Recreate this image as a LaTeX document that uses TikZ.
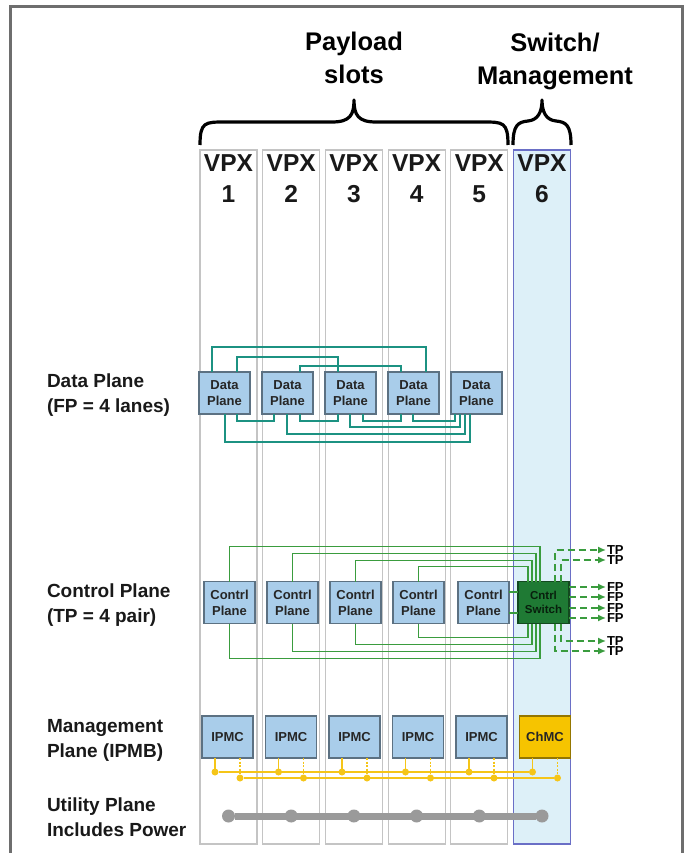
\documentclass[tikz,border=0pt]{standalone}
\usepackage{fontspec}
\setmainfont{Liberation Sans}
\usepackage{tikz}
\usetikzlibrary{positioning,arrows.meta}
\definecolor{slotgray}{HTML}{C4C4C4}
\definecolor{slotblue}{HTML}{DDF0F8}
\definecolor{slotblueline}{HTML}{6A6FC6}
\definecolor{boxblue}{HTML}{A9CDEA}
\definecolor{boxline}{HTML}{5C7182}
\definecolor{dpteal}{HTML}{1C9282}
\definecolor{cpgreen}{HTML}{3A9C3E}
\definecolor{swgreen}{HTML}{1F7A34}
\definecolor{ipmbyellow}{HTML}{F5C518}
\definecolor{chmcyellow}{HTML}{F6C400}
\definecolor{pwrgray}{HTML}{9A9A9A}
\definecolor{framegray}{HTML}{6E6E6E}

\begin{document}
\begin{tikzpicture}[x=1pt,y=-1pt,node distance=12pt,every node/.style={outer sep=0pt},slot/.style={draw=slotgray, line width=1.2pt, minimum width=57pt, minimum height=694pt, inner sep=0pt}, swslot/.style={slot, fill=slotblue, draw=slotblueline}, vpx/.style={font=\bfseries\fontsize{24.5}{30.5}\selectfont, align=center, text=black!90, inner sep=0pt}, ttl/.style={font=\bfseries\fontsize{25.5}{33}\selectfont, align=center, inner sep=0pt}, plane/.style={font=\bfseries\fontsize{19}{25}\selectfont, align=left, anchor=west, inner sep=0pt, text=black!90}, blk/.style={draw=boxline, fill=boxblue, line width=1.2pt, minimum width=51pt, minimum height=42pt, inner sep=0pt, align=center, text=black!85, font=\bfseries\fontsize{13}{16}\selectfont}, cswitch/.style={blk, fill=swgreen, draw=swgreen!60!black, text=black!75!swgreen, font=\bfseries\fontsize{11.5}{14}\selectfont}, chmc/.style={blk, fill=chmcyellow, draw=chmcyellow!60!black}, brc/.style={line width=3.2pt, line join=round}, dlink/.style={dpteal, line width=2.5pt}, clink/.style={cpgreen, line width=1.5pt}, port/.style={cpgreen, line width=1.5pt, dash pattern=on 7pt off 4pt, -{Latex[length=8pt,width=7pt]}}, portlbl/.style={font=\bfseries\fontsize{13}{12}\selectfont, anchor=west, inner sep=1pt}, ipmb/.style={ipmbyellow, line width=1.5pt}, ydot/.style={circle, fill=ipmbyellow, inner sep=0pt, minimum size=7pt}, pwr/.style={pwrgray, line width=7pt}, pdot/.style={circle, fill=pwrgray, inner sep=0pt, minimum size=13pt}]
        \useasboundingbox[fill=white] (0,0) rectangle (690,853);
        \draw[framegray, line width=3pt] (10,853) -- (10,7) -- (682,7) -- (682,853);
        
        % slots
        \node[slot] (s1) at (228.5,497) {};
        \node[slot] (s2) [right = 5.7pt of s1] {};
        \node[slot] (s3) [right = 5.7pt of s2] {};
        \node[slot] (s4) [right = 5.7pt of s3] {};
        \node[slot] (s5) [right = 5.7pt of s4] {};
        \node[swslot] (s6) [right = 5.7pt of s5] {};
        
        \node[vpx] (v1) [below = 5pt of s1.north] {VPX\\1};
        \node[vpx] (v2) [below = 5pt of s2.north] {VPX\\2};
        \node[vpx] (v3) [below = 5pt of s3.north] {VPX\\3};
        \node[vpx] (v4) [below = 5pt of s4.north] {VPX\\4};
        \node[vpx] (v5) [below = 5pt of s5.north] {VPX\\5};
        \node[vpx] (v6) [below = 5pt of s6.north] {VPX\\6};
        
        \node[ttl] (ttlpay) at (354,58) {Payload\\slots};
        \node[ttl] (ttlsw) at (555,61) {Switch/\\Management};
        
        \draw[brc] (200,145) .. controls (200,122) and (205,122) .. (225,122) -- (332,122) .. controls (350,122) and (354,115) .. (354,100) .. controls (354,115) and (358,122) .. (376,122) -- (483,122) .. controls (503,122) and (508,122) .. (508,145);
        \draw[brc] (513,145) .. controls (513,125) and (518,122) .. (528,121) .. controls (538,120) and (542,112) .. (542,100) .. controls (542,112) and (546,120) .. (556,121) .. controls (566,122) and (571,125) .. (571,145);
        
        \node[plane] (lbldp) at (47,395) {Data Plane\\(FP = 4 lanes)};
        \node[plane] (lblcp) at (47,605) {Control Plane\\(TP = 4 pair)};
        \node[plane] (lblmp) at (47,740) {Management\\Plane (IPMB)};
        \node[plane] (lblup) at (47,817) {Utility Plane\\Includes Power};
        
        % data plane
        \node[blk] (dp1) at (224.5,393) {Data\\Plane};
        \node[blk] (dp2) [right = of dp1] {Data\\Plane};
        \node[blk] (dp3) [right = of dp2] {Data\\Plane};
        \node[blk] (dp4) [right = of dp3] {Data\\Plane};
        \node[blk] (dp5) [right = of dp4] {Data\\Plane};
        
        \draw[dlink] ([xshift=13pt]dp1.north west) -- ++(0,-25) -| ([xshift=38pt]dp4.north west);
        \draw[dlink] ([xshift=38pt]dp1.north west) -- ++(0,-15) -| ([xshift=13pt]dp3.north west);
        \draw[dlink] ([xshift=38pt]dp2.north west) -- ++(0,-6) -| ([xshift=13pt]dp4.north west);
        \draw[dlink] ([xshift=38pt]dp1.south west) -- ++(0,7) -| ([xshift=12pt]dp2.south west);
        \draw[dlink] ([xshift=38pt]dp2.south west) -- ++(0,7) -| ([xshift=13pt]dp3.south west);
        \draw[dlink] ([xshift=38pt]dp3.south west) -- ++(0,7) -| ([xshift=13pt]dp4.south west);
        \draw[dlink] ([xshift=25pt]dp4.south west) -- ++(0,7) -| ([xshift=4pt]dp5.south west);
        \draw[dlink] ([xshift=25pt]dp3.south west) -- ++(0,13) -| ([xshift=9pt]dp5.south west);
        \draw[dlink] ([xshift=25pt]dp2.south west) -- ++(0,20) -| ([xshift=14pt]dp5.south west);
        \draw[dlink] ([xshift=26pt]dp1.south west) -- ++(0,28) -| ([xshift=19pt]dp5.south west);
        
        % control plane
        \node[blk] (cp1) at (229.5,602.5) {Contrl\\Plane};
        \node[blk] (cp2) [right = of cp1] {Contrl\\Plane};
        \node[blk] (cp3) [right = of cp2] {Contrl\\Plane};
        \node[blk] (cp4) [right = of cp3] {Contrl\\Plane};
        \node[blk] (cp5) [right = 14pt of cp4] {Contrl\\Plane};
        \node[cswitch] (sw) [right = 9pt of cp5] {Cntrl\\Switch};
        
        \draw[clink] (cp1.north) -- ++(0,-35) -| ([xshift=22pt]sw.north west);
        \draw[clink] (cp2.north) -- ++(0,-28) -| ([xshift=18pt]sw.north west);
        \draw[clink] (cp3.north) -- ++(0,-21) -| ([xshift=14pt]sw.north west);
        \draw[clink] (cp4.north) -- ++(0,-15) -| ([xshift=10pt]sw.north west);
        \draw[clink] (cp1.south) -- ++(0,35) -| ([xshift=22pt]sw.south west);
        \draw[clink] (cp2.south) -- ++(0,28) -| ([xshift=18pt]sw.south west);
        \draw[clink] (cp3.south) -- ++(0,21) -| ([xshift=14pt]sw.south west);
        \draw[clink] (cp4.south) -- ++(0,14) -| ([xshift=10pt]sw.south west);
        \draw[clink] ([yshift=10.5pt]cp5.east) -- ([yshift=10.5pt]sw.west);
        \draw[clink] ([yshift=-10.5pt]cp5.east) -- ([yshift=-10.5pt]sw.west);
        
        \node[portlbl] (tp1) at (606,550) {TP};
        \node[portlbl] (tp2) at (606,560) {TP};
        \node[portlbl] (fp1) at (606,587) {FP};
        \node[portlbl] (fp2) at (606,597) {FP};
        \node[portlbl] (fp3) at (606,608) {FP};
        \node[portlbl] (fp4) at (606,618) {FP};
        \node[portlbl] (tp3) at (606,641) {TP};
        \node[portlbl] (tp4) at (606,651) {TP};
        
        \draw[port] ([xshift=37pt]sw.north west) |- (tp1.west);
        \draw[port] ([xshift=43pt]sw.north west) |- (tp2.west);
        \draw[port] (sw.east |- fp1.west) -- (fp1.west);
        \draw[port] (sw.east |- fp2.west) -- (fp2.west);
        \draw[port] (sw.east |- fp3.west) -- (fp3.west);
        \draw[port] (sw.east |- fp4.west) -- (fp4.west);
        \draw[port] ([xshift=43pt]sw.south west) |- (tp3.west);
        \draw[port] ([xshift=37pt]sw.south west) |- (tp4.west);
        
        % management plane
        \node[blk] (ipmc1) at (227.5,737) {IPMC};
        \node[blk] (ipmc2) [right = 12.5pt of ipmc1] {IPMC};
        \node[blk] (ipmc3) [right = 12.5pt of ipmc2] {IPMC};
        \node[blk] (ipmc4) [right = 12.5pt of ipmc3] {IPMC};
        \node[blk] (ipmc5) [right = 12.5pt of ipmc4] {IPMC};
        \node[chmc] (chmc) [right = 12.5pt of ipmc5] {ChMC};
        
        \draw[ipmb] ([xshift=13pt]ipmc1.south west) -- ++(0,14) node[ydot] (ya1) {};
        \draw[ipmb] ([xshift=13pt]ipmc2.south west) -- ++(0,14) node[ydot] (ya2) {};
        \draw[ipmb] ([xshift=13pt]ipmc3.south west) -- ++(0,14) node[ydot] (ya3) {};
        \draw[ipmb] ([xshift=13pt]ipmc4.south west) -- ++(0,14) node[ydot] (ya4) {};
        \draw[ipmb] ([xshift=13pt]ipmc5.south west) -- ++(0,14) node[ydot] (ya5) {};
        \draw[ipmb] ([xshift=13pt]chmc.south west) -- ++(0,14) node[ydot] (ya6) {};
        \draw[ipmb, dash pattern=on 2pt off 1.5pt] ([xshift=38pt]ipmc1.south west) -- ++(0,20) node[ydot] (yb1) {};
        \draw[ipmb, dash pattern=on 2pt off 1.5pt] ([xshift=38pt]ipmc2.south west) -- ++(0,20) node[ydot] (yb2) {};
        \draw[ipmb, dash pattern=on 2pt off 1.5pt] ([xshift=38pt]ipmc3.south west) -- ++(0,20) node[ydot] (yb3) {};
        \draw[ipmb, dash pattern=on 2pt off 1.5pt] ([xshift=38pt]ipmc4.south west) -- ++(0,20) node[ydot] (yb4) {};
        \draw[ipmb, dash pattern=on 2pt off 1.5pt] ([xshift=38pt]ipmc5.south west) -- ++(0,20) node[ydot] (yb5) {};
        \draw[ipmb, dash pattern=on 2pt off 1.5pt] ([xshift=38pt]chmc.south west) -- ++(0,20) node[ydot] (yb6) {};
        \draw[ipmb] (ya1) -- (ya6);
        \draw[ipmb] (yb1) -- (yb6);
        
        % utility plane
        \node[pdot] (u1) at (228.5,816) {};
        \node[pdot] (u2) [right = 49.7pt of u1] {};
        \node[pdot] (u3) [right = 49.7pt of u2] {};
        \node[pdot] (u4) [right = 49.7pt of u3] {};
        \node[pdot] (u5) [right = 49.7pt of u4] {};
        \node[pdot] (u6) [right = 49.7pt of u5] {};
        \draw[pwr] (u1) -- (u6);
    \end{tikzpicture}
\end{document}
